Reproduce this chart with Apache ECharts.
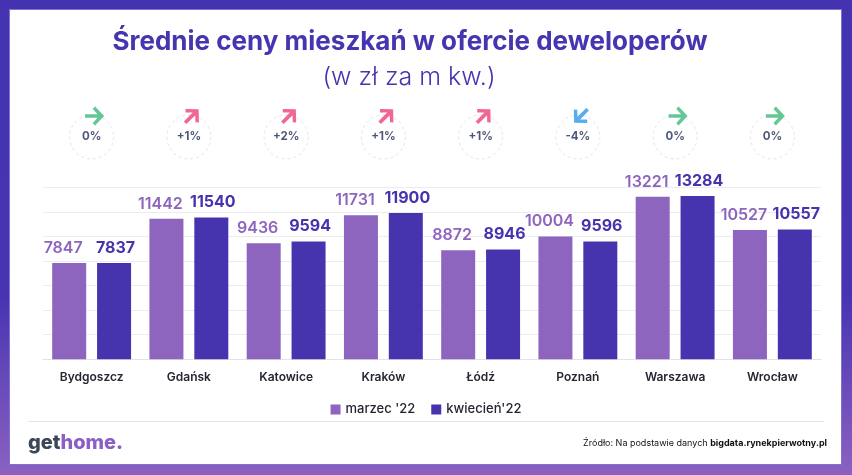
<!DOCTYPE html>
<html><head><meta charset="utf-8">
<script src="https://cdn.jsdelivr.net/npm/echarts@6.0.0/dist/echarts.min.js"></script>
<style>
html,body{margin:0;padding:0;width:852px;height:475px;overflow:hidden;}
body{background:linear-gradient(180deg,#4433b1 0%,#4634b2 62%,#8c61c1 100%);}
#card{position:absolute;left:10px;top:10px;width:831px;height:454px;background:#fff;box-shadow:0 0 0 1px #7f72d2;}
#chart{position:absolute;left:0;top:0;width:852px;height:475px;}
</style></head>
<body><div id="card"></div><div id="chart"></div>
<script>
const cities = ['Bydgoszcz','Gdańsk','Katowice','Kraków','Łódź','Poznań','Warszawa','Wrocław'];
const march = [7847,11442,9436,11731,8872,10004,13221,10527];
const april = [7837,11540,9594,11900,8946,9596,13284,10557];
const seriesNames = ["marzec '22", "kwiecień'22"];
const changeLabels = ['0%','+1%','+2%','+1%','+1%','-4%','0%','0%'];
const changeDirs = ['flat','up','up','up','up','down','flat','flat'];

const C1 = '#8d65bf', C2 = '#4634af';
const FONT = 'Inter, "Open Sans", sans-serif';
const arrowPath = 'path://M1,8.3 L13,8.3 L8.3,3.6 L10.6,1.3 L19.3,10 L10.6,18.7 L8.3,16.4 L13,11.7 L1,11.7 Z';
const dirStyle = {flat:{rot:0,color:'#3fb97a'}, up:{rot:45,color:'#ee4079'}, down:{rot:225,color:'#2c98ea'}};

const chart = echarts.init(document.getElementById('chart'));
chart.setOption({
  animation:false,
  textStyle:{fontFamily:FONT},
  grid:[
    {left:43,right:31,top:187.3,bottom:115.7},
    {left:43,right:31,top:117,height:40}
  ],
  xAxis:[
    {type:'category',data:cities,gridIndex:0,
     axisLine:{lineStyle:{color:'#e2e2e8'}},axisTick:{show:false},
     axisLabel:{color:'#262633',fontSize:12,fontWeight:600,margin:12,fontFamily:FONT}},
    {type:'category',data:cities,gridIndex:1,show:false}
  ],
  yAxis:[
    {type:'value',min:0,max:14000,interval:2000,gridIndex:0,
     axisLabel:{show:false},axisLine:{show:false},axisTick:{show:false},
     splitLine:{lineStyle:{color:'#ebebf0'}}},
    {type:'value',min:0,max:1,gridIndex:1,show:false}
  ],
  legend:{data:seriesNames,left:'center',top:398,itemWidth:10,itemHeight:10,itemGap:16,
    icon:'rect',textStyle:{fontSize:13,color:'#262633',fontWeight:500,fontFamily:FONT}},
  series:[
    {name:seriesNames[0],type:'bar',data:march,barWidth:34,barGap:'32%',
     itemStyle:{color:C1},
     label:{show:true,position:'top',distance:7,offset:[-6,0],color:C1,fontSize:16,fontWeight:600,fontFamily:FONT}},
    {name:seriesNames[1],type:'bar',data:april,barWidth:34,barGap:'32%',
     itemStyle:{color:C2},
     label:{show:true,position:'top',distance:7,offset:[1.5,0],color:C2,fontSize:16,fontWeight:700,fontFamily:FONT}},
    {type:'scatter',xAxisIndex:1,yAxisIndex:1,silent:true,
     data:changeLabels.map((l,i)=>({value:[i,0.5],name:l})),
     symbol:'circle',symbolSize:44,
     itemStyle:{color:'rgba(0,0,0,0)',borderColor:'#dcdce3',borderWidth:1,borderType:[3,3]},
     label:{show:true,position:'inside',formatter:p=>p.name,color:'#1f2a56',fontSize:11.5,fontWeight:700,fontFamily:FONT}},
    {type:'scatter',xAxisIndex:1,yAxisIndex:1,silent:true,
     data:changeDirs.map((d,i)=>({value:[i,0.5],symbolRotate:dirStyle[d].rot,itemStyle:{color:dirStyle[d].color}})),
     symbol:arrowPath,symbolSize:19,symbolOffset:[3,-21]}
  ],
  graphic:[
    {type:'text',x:410,y:42,style:{text:'Średnie ceny mieszkań w ofercie deweloperów',fill:'#4535b0',
      font:'bold 26px '+FONT,textAlign:'center',textVerticalAlign:'middle'}},
    {type:'text',x:409,y:77,style:{text:'(w zł za m kw.)',fill:'#4535b0',
      font:'300 25px '+FONT,textAlign:'center',textVerticalAlign:'middle'}},
    {type:'line',shape:{x1:28,y1:421.5,x2:824,y2:421.5},style:{stroke:'#e4e4ea',lineWidth:1}},
    {type:'text',x:28,y:443,style:{text:'{a|get}{b|home.}',textVerticalAlign:'middle',
      rich:{a:{fill:'#3b4757',font:'800 20px '+FONT},b:{fill:'#8c5fc6',font:'800 20px '+FONT}}}},
    {type:'text',x:827,y:443,style:{text:'{n|Źródło: Na podstawie danych }{b|bigdata.rynekpierwotny.pl}',
      textAlign:'right',textVerticalAlign:'middle',
      rich:{n:{fill:'#111',font:'9px '+FONT},b:{fill:'#111',font:'bold 9px '+FONT}}}}
  ]
});
</script>
</body></html>
